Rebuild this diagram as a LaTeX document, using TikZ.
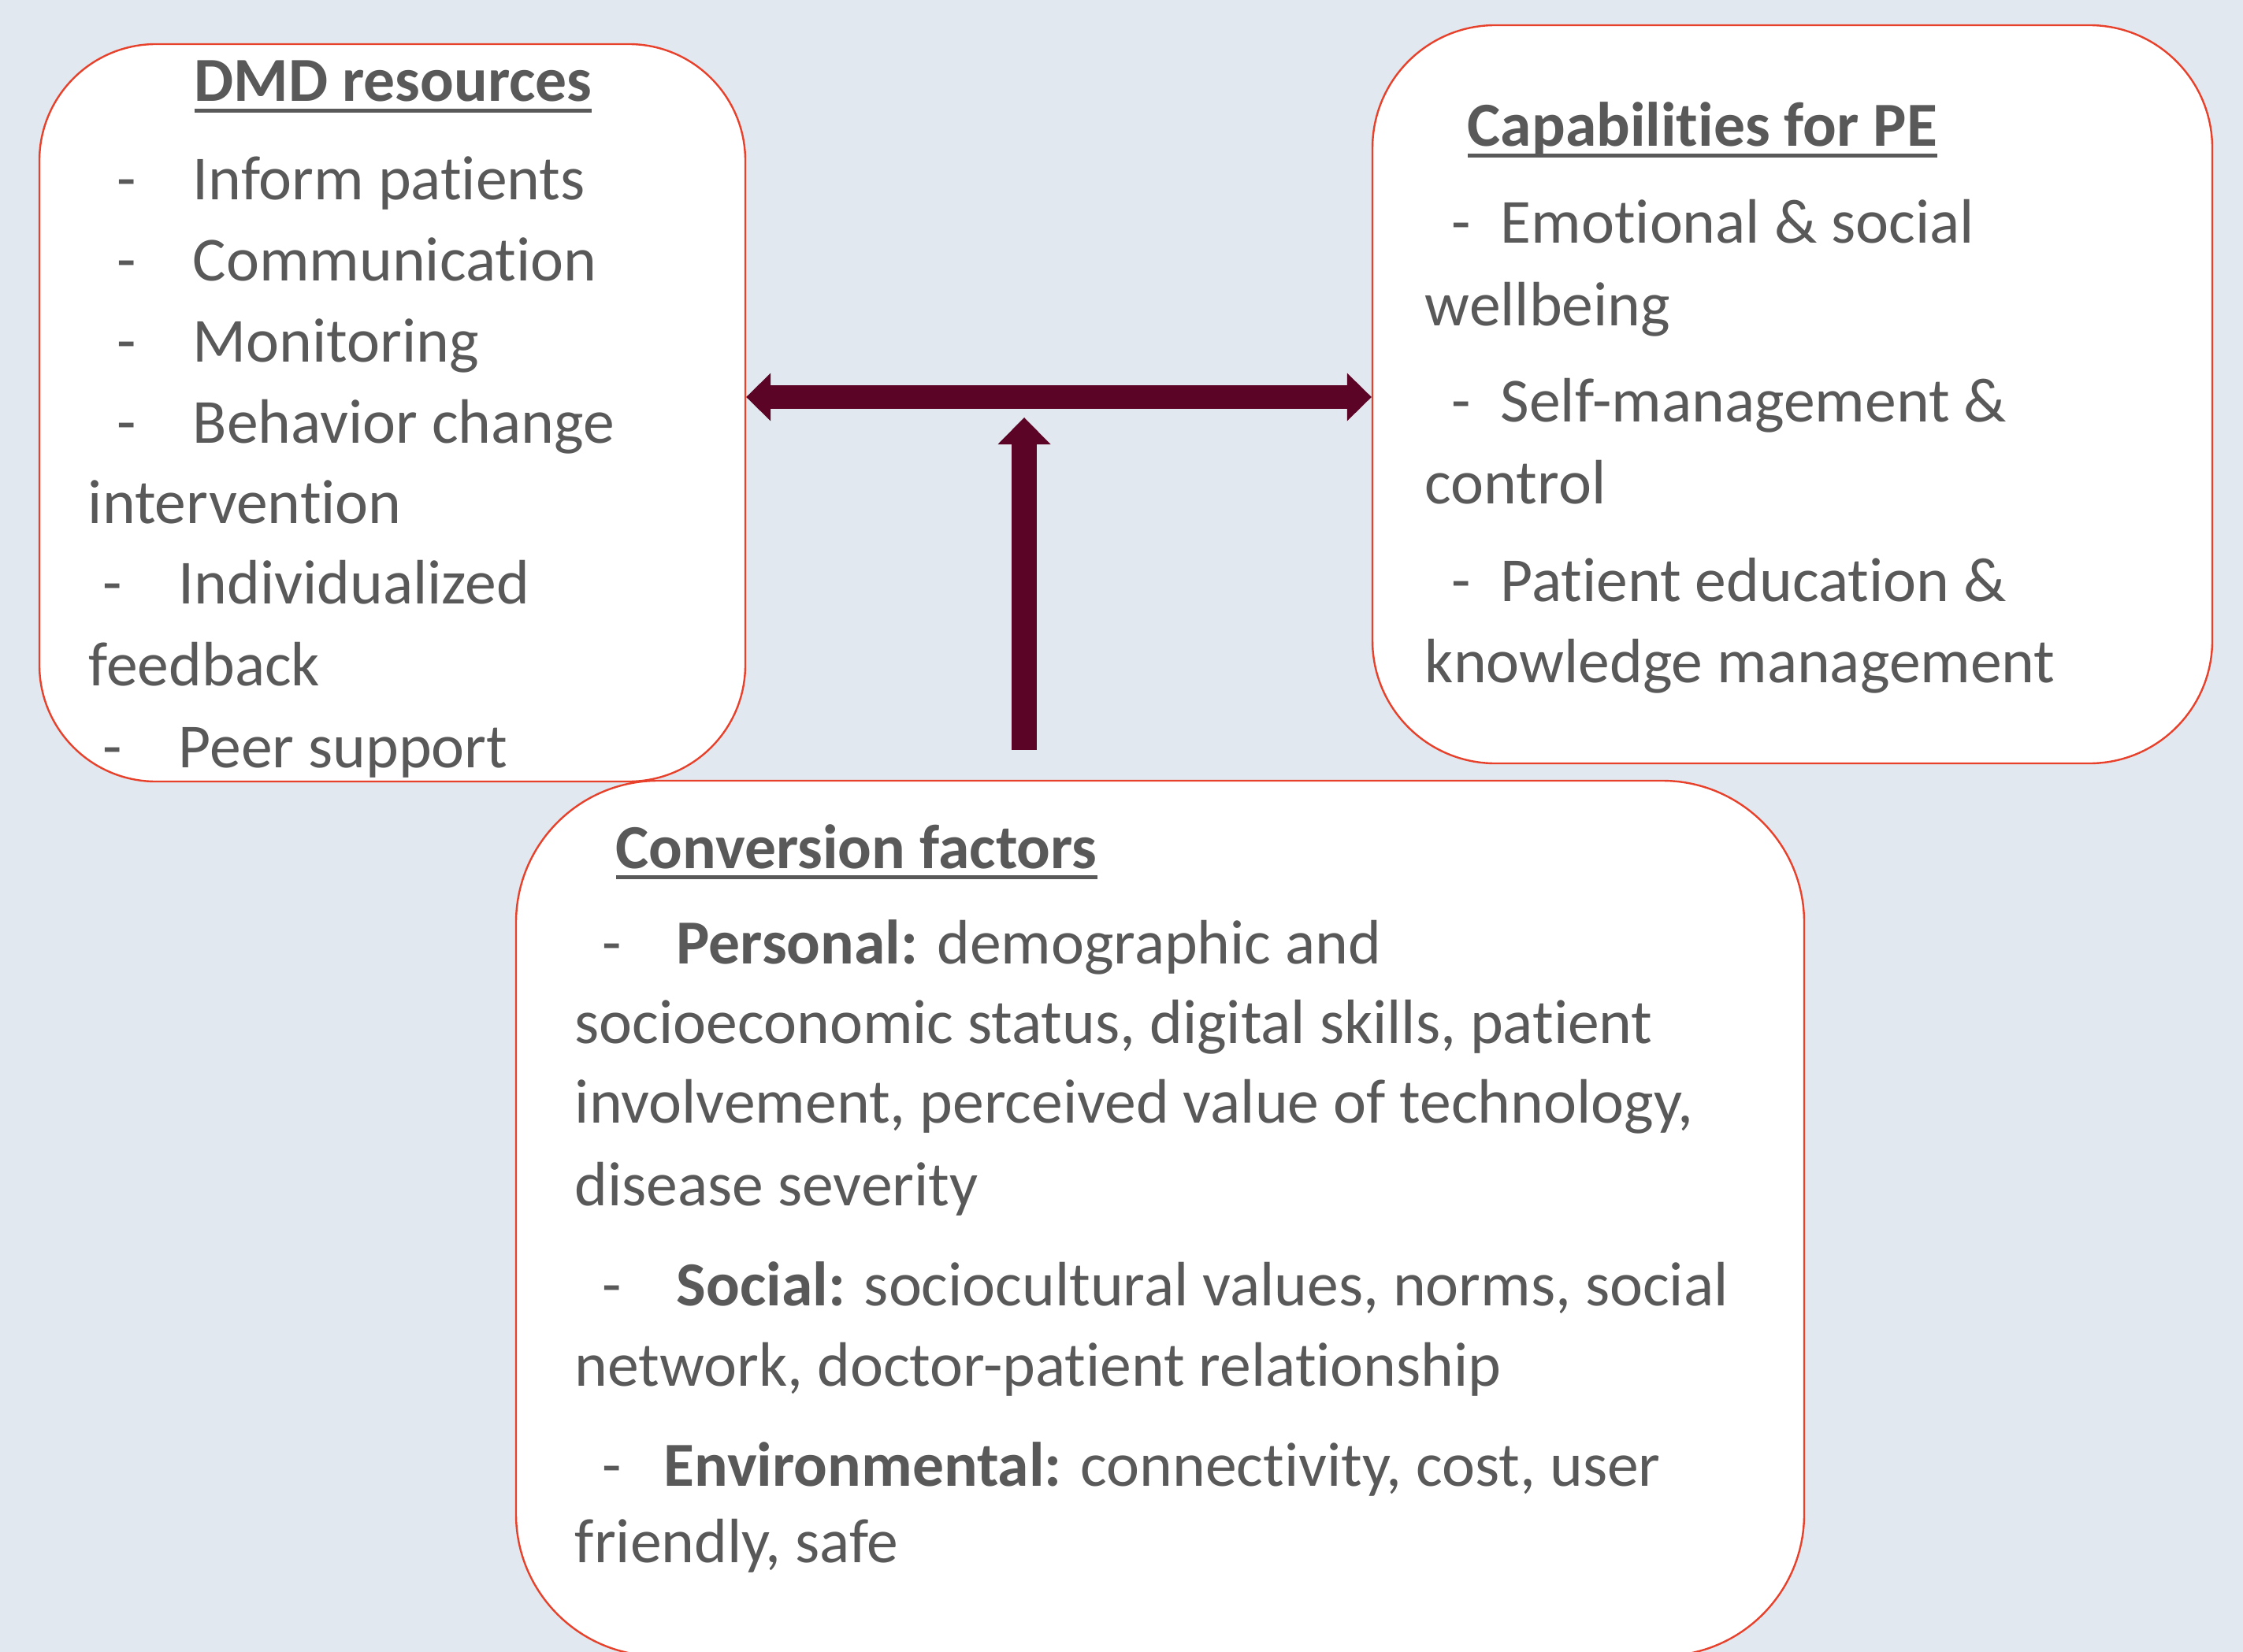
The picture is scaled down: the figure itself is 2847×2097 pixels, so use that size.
\documentclass[tikz,border=0pt]{standalone}
\usepackage{fontspec}
\setmainfont{Carlito}[Ligatures=NoCommon]
\usetikzlibrary{arrows.meta}
\definecolor{bg}{HTML}{E1E8EF}
\definecolor{edge}{HTML}{E8412B}
\definecolor{maroon}{HTML}{5C0425}
\definecolor{tgray}{HTML}{595959}
\newcommand\myul[1]{\setbox0\hbox{#1}\rlap{\rule[-3.4pt]{\wd0}{1.25pt}}\box0}
\newcommand\mydash[1]{\makebox[#1][l]{-}}
\begin{document}
\begin{tikzpicture}[x=0.25pt,y=-0.25pt,
  box/.style={draw=edge, line width=0.6pt, fill=white, inner sep=0pt, rectangle},
  txt/.style={anchor=base west, inner sep=0pt, text=tgray, font=\fontsize{19.9}{24}\selectfont},
  ttl/.style={txt, font=\fontsize{19.9}{24}\selectfont\bfseries},
  harrow/.style={draw=maroon, line width=7.5pt, {Triangle[length=7.75pt,width=15.25pt,line width=0pt]}-{Triangle[length=7.75pt,width=15.25pt,line width=0pt]}},
  varrow/.style={draw=maroon, line width=8pt, -{Triangle[length=8.5pt,width=16.75pt,line width=0pt]}}]
\fill[bg] (0,0) rectangle (2847,2097);
\useasboundingbox (0,0) rectangle (2847,2097);

% boxes
\node[box, minimum width=224pt, minimum height=234pt, rounded corners=37pt] (b1) at (498,524) {};
\node[box, minimum width=266.5pt, minimum height=234.25pt, rounded corners=39pt] (b2) at (2275,500.5) {};
\node[box, minimum width=408.75pt, minimum height=277.75pt, rounded corners=45pt] (b3) at (1472.5,1546.5) {};

% connectors
\coordinate (hy) at (0,504);
\draw[harrow] (b1.east |- hy) -- (b2.west |- hy);
\coordinate (vs) at (1300,952);
\coordinate (ve) at (1300,530);
\draw[varrow] (vs) -- (ve);

% DMD resources
\node[ttl, anchor=base] (t1) at (499,129) {\myul{DMD resources}};
\node[txt] (a1) at (148,253) {\mydash{24pt}Inform patients};
\node[txt] (a2) at (148,356) {\mydash{24pt}Communication};
\node[txt] (a3) at (148,459) {\mydash{24pt}Monitoring};
\node[txt] (a4) at (148,562) {\mydash{24pt}Behavior change};
\node[txt] (a5) at (111,664) {intervention};
\node[txt] (a6) at (130,766) {\mydash{24pt}Individualized};
\node[txt] (a7) at (112,870) {feedback};
\node[txt] (a8) at (130,974) {\mydash{24pt}Peer support};

% Capabilities for PE
\node[ttl] (t2) at (1862,186) {\myul{Capabilities for PE}};
\node[txt] (c1) at (1842,309) {\mydash{15.5pt}Emotional \& social};
\node[txt] (c2) at (1808,413) {wellbeing};
\node[txt] (c3) at (1842,535) {\mydash{15.5pt}Self-management \&};
\node[txt] (c4) at (1808,639) {control};
\node[txt] (c5) at (1842,763) {\mydash{15.5pt}Patient education \&};
\node[txt] (c6) at (1808,866) {knowledge management};

% Conversion factors
\node[ttl] (t3) at (781,1102) {\myul{Conversion factors}};
\node[txt] (f1) at (764,1223) {\mydash{23.5pt}\textbf{Personal:} demographic and};
\node[txt] (f2) at (729,1324) {socioeconomic status, digital skills, patient};
\node[txt] (f3) at (729,1425) {involvement, perceived value of technology,};
\node[txt] (f4) at (729,1530) {disease severity};
\node[txt] (f5) at (764,1657) {\mydash{23.5pt}\textbf{Social:} sociocultural values, norms, social};
\node[txt] (f6) at (729,1759) {network, doctor-patient relationship};
\node[txt] (f7) at (764,1886) {\mydash{19.5pt}\textbf{Environmental:} connectivity, cost, user};
\node[txt] (f8) at (729,1983) {friendly, safe};
\end{tikzpicture}
\end{document}
